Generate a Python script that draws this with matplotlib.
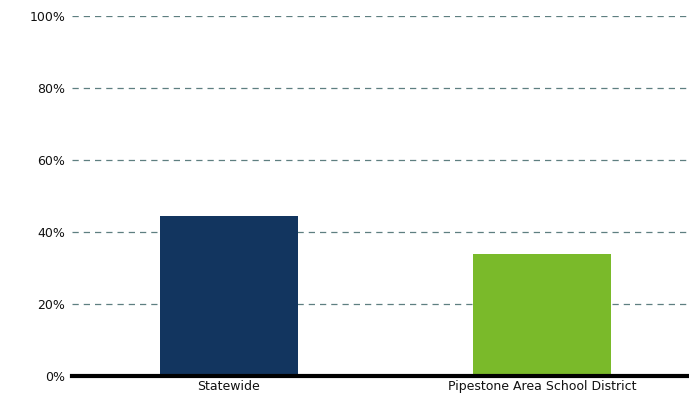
import matplotlib.pyplot as plt
from matplotlib.ticker import PercentFormatter

categories = ["Statewide", "Pipestone Area School District"]
values = [0.444, 0.339]
colors = ["#12355f", "#7aba2a"]
y_ticks = [0, 0.2, 0.4, 0.6, 0.8, 1.0]

fig = plt.figure(figsize=(6.89, 4.05), dpi=100)
ax = fig.add_axes([0.1045, 0.0716, 0.8955, 0.8889])

ax.bar(range(len(categories)), values, width=0.44, color=colors, zorder=3)

ax.set_ylim(0, 1)
ax.set_xlim(-0.5, 1.47)
ax.set_yticks(y_ticks)
ax.yaxis.set_major_formatter(PercentFormatter(1.0, decimals=0))
ax.set_xticks(range(len(categories)))
ax.set_xticklabels(categories)

ax.grid(axis='y', linestyle=(0, (5, 4)), color="#5e7f80", linewidth=0.9, zorder=0)
for s in ['top', 'right', 'left']:
    ax.spines[s].set_visible(False)
ax.spines['bottom'].set_linewidth(3)
ax.spines['bottom'].set_color('black')
ax.spines['bottom'].set_zorder(4)
ax.tick_params(axis='both', length=0, labelsize=9, colors='#111111', pad=5)
ax.tick_params(axis='x', pad=3)

fig.savefig("out.png", dpi=100)
